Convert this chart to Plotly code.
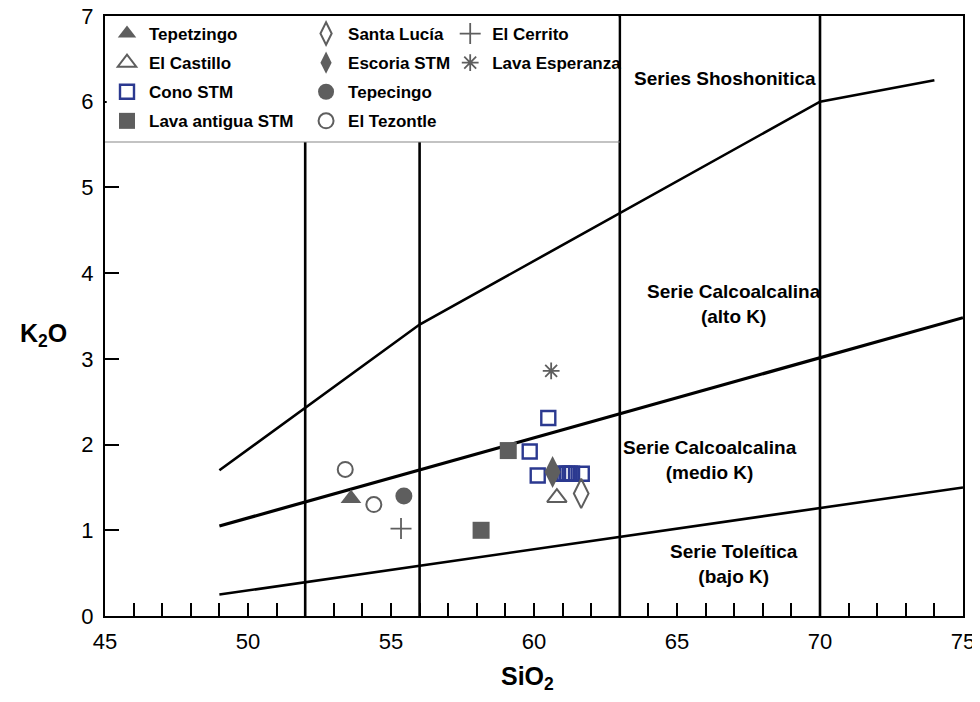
import plotly.graph_objects as go

# ---------------- data ----------------
tepetzingo_x = [53.6];  tepetzingo_y = [1.37]
castillo_x = [60.8];    castillo_y = [1.38]
cono_x = [60.5, 59.85, 60.13, 60.98, 61.07, 61.16, 61.25, 61.33, 61.67]
cono_y = [2.31, 1.92, 1.64, 1.66, 1.66, 1.66, 1.66, 1.66, 1.66]
antigua_x = [59.1, 58.15]; antigua_y = [1.93, 1.0]
santalucia_x = [61.65]; santalucia_y = [1.43]
escoria_x = [60.65];    escoria_y = [1.68]
tepecingo_x = [55.45];  tepecingo_y = [1.40]
tezontle_x = [53.4, 54.4]; tezontle_y = [1.71, 1.30]
cerrito_x = [55.35];    cerrito_y = [1.02]
esperanza_x = [60.6];   esperanza_y = [2.86]

# classification boundaries
shosho_x = [49, 56, 70, 74];  shosho_y = [1.7, 3.4, 6.0, 6.25]
highk_x = [49, 75];           highk_y = [1.05, 3.48]
lowk_x = [49, 75];            lowk_y = [0.25, 1.5]
short_vlines = [52, 56]
long_vlines = [63, 70]
legend_bottom = 5.53
y_top = 7

x_ticks = [45, 50, 55, 60, 65, 70, 75]
y_ticks = [0, 1, 2, 3, 4, 5, 6, 7]

FONT = "Liberation Sans, Arial, sans-serif"
GRAY = "#5e5e5e"
BLUE = "#2b3990"

fig = go.Figure()

# boundary lines
for xs, ys, w in [(shosho_x, shosho_y, 2.6), (highk_x, highk_y, 3.2), (lowk_x, lowk_y, 2.6)]:
    fig.add_trace(go.Scatter(x=xs, y=ys, mode="lines", line=dict(color="black", width=w),
                             showlegend=False, hoverinfo="skip"))
for v in short_vlines:
    fig.add_trace(go.Scatter(x=[v, v], y=[0, legend_bottom], mode="lines",
                             line=dict(color="black", width=2.6), showlegend=False, hoverinfo="skip"))
for v in long_vlines:
    fig.add_trace(go.Scatter(x=[v, v], y=[0, y_top], mode="lines",
                             line=dict(color="black", width=2.6), showlegend=False, hoverinfo="skip"))

def pts(name, xs, ys, symbol, size, color, legend, fill=None, lw=2):
    marker = dict(symbol=symbol, size=size, color=fill if fill else color,
                  line=dict(color=color, width=lw))
    fig.add_trace(go.Scatter(x=xs, y=ys, mode="markers", name=name, marker=marker,
                             legend=legend, legendgroup=name))

pts("Tepetzingo", tepetzingo_x, tepetzingo_y, "triangle-up", 18, GRAY, "legend", lw=0)
pts("El Castillo", castillo_x, castillo_y, "triangle-up-open", 17, GRAY, "legend")
pts("Cono STM", cono_x, cono_y, "square-open", 14, BLUE, "legend", lw=2.4)
pts("Lava antigua STM", antigua_x, antigua_y, "square", 17, GRAY, "legend", lw=0)
pts("Santa Lucía", santalucia_x, santalucia_y, "diamond-tall-open", 21, GRAY, "legend2")
pts("Escoria STM", escoria_x, escoria_y, "diamond-tall", 23, GRAY, "legend2", lw=0)
pts("Tepecingo", tepecingo_x, tepecingo_y, "circle", 17, GRAY, "legend2", lw=0)
pts("El Tezontle", tezontle_x, tezontle_y, "circle-open", 15, GRAY, "legend2")
pts("El Cerrito", cerrito_x, cerrito_y, "cross-thin-open", 15, GRAY, "legend3", lw=1.8)
pts("Lava Esperanza", esperanza_x, esperanza_y, "asterisk-open", 14, GRAY, "legend3", lw=1.8)

legend_common = dict(font=dict(family=FONT, size=17, color="black", weight="bold"),
                     bgcolor="rgba(0,0,0,0)", borderwidth=0, traceorder="grouped",
                     tracegroupgap=4, yanchor="top", y=1.0, xanchor="left",
                     itemsizing="trace", itemwidth=34)

# legend box cover and bottom line
shapes = [
    dict(type="rect", xref="x", yref="y", x0=45.06, x1=62.95, y0=legend_bottom + 0.02, y1=6.985,
         fillcolor="white", line=dict(width=0), layer="above"),
    dict(type="line", xref="x", yref="y", x0=45, x1=63, y0=legend_bottom, y1=legend_bottom,
         line=dict(color="#888888", width=1.2), layer="above"),
]

ann_font = dict(family=FONT, size=19, color="black", weight="bold")
annotations = [
    dict(x=66.67, y=6.27, text="Series Shoshonitica"),
    dict(x=67.0, y=3.64, text="Serie Calcoalcalina<br>(alto K)"),
    dict(x=66.15, y=1.82, text="Serie Calcoalcalina<br>(medio K)"),
    dict(x=67.0, y=0.61, text="Serie Toleítica<br>(bajo K)"),
]
annotations = [dict(a, xref="x", yref="y", showarrow=False, font=ann_font, align="center",
                    xanchor="center", yanchor="middle")
               for a in annotations]
annotations += [
    dict(xref="paper", yref="paper", x=-0.072, y=0.468, text="K<sub>2</sub>O", showarrow=False,
         xanchor="center", yanchor="middle",
         font=dict(family=FONT, size=25, color="black", weight="bold")),
    dict(xref="paper", yref="paper", x=0.493, y=-0.104, text="SiO<sub>2</sub>", showarrow=False,
         xanchor="center", yanchor="middle",
         font=dict(family=FONT, size=25, color="black", weight="bold")),
]

fig.update_layout(
    width=980, height=702,
    margin=dict(l=97, r=25, t=8, b=94, autoexpand=False),
    paper_bgcolor="white", plot_bgcolor="white",
    legend=dict(legend_common, x=0.0),
    legend2=dict(legend_common, x=0.232),
    legend3=dict(legend_common, x=0.400),
    shapes=shapes, annotations=annotations,
    xaxis=dict(range=[45, 75], tickvals=x_ticks, ticks="inside", ticklen=13, tickwidth=2,
               tickcolor="black", showline=True, linecolor="black", linewidth=2, mirror=True,
               showgrid=False, zeroline=False, ticklabelstandoff=5, ticklabeloverflow="allow",
               tickfont=dict(family=FONT, size=22, color="black"),
               minor=dict(dtick=1, tick0=45, ticks="inside", ticklen=13, tickwidth=1.6,
                          tickcolor="black", showgrid=False)),
    yaxis=dict(range=[0, 7], tickvals=y_ticks, ticks="inside", ticklen=14, tickwidth=2,
               tickcolor="black", showline=True, linecolor="black", linewidth=2, mirror=True,
               showgrid=False, zeroline=False, ticklabelstandoff=5, ticklabeloverflow="allow",
               tickfont=dict(family=FONT, size=22, color="black")),
)

fig.write_html("out.html")
